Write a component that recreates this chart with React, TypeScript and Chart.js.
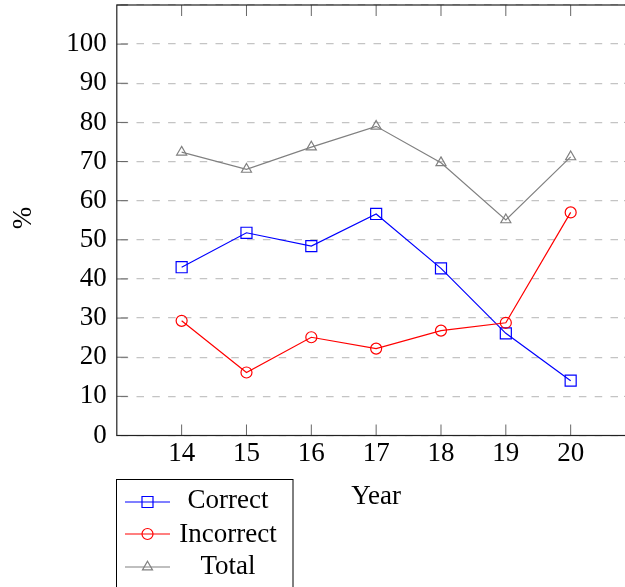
import React, { useEffect, useRef } from 'react';
import { Chart, registerables } from 'chart.js';

Chart.register(...registerables);

const years = [14, 15, 16, 17, 18, 19, 20];
const correct = [43.0, 51.8, 48.4, 56.6, 42.7, 26.1, 14.0];
const incorrect = [29.3, 16.1, 25.1, 22.2, 26.8, 28.8, 57.0];
const total = [72.4, 68.0, 73.7, 79.0, 69.7, 55.1, 71.2];
const yTickValues = [0, 10, 20, 30, 40, 50, 60, 70, 80, 90, 100, 110];
const seriesNames = ['Correct', 'Incorrect', 'Total'];
const seriesColors = ['#0000ff', '#ff0000', '#808080'];
const seriesMarkers = ['rect', 'circle', 'triangle'];
const xTitle = 'Year';
const yTitle = '%';

const FONT = '"Liberation Serif", "DejaVu Serif", serif';
const FS = 27;

function drawMarker(ctx: CanvasRenderingContext2D, kind: string, x: number, y: number, color: string) {
  ctx.save();
  ctx.strokeStyle = color;
  ctx.lineWidth = 1.2;
  ctx.setLineDash([]);
  ctx.beginPath();
  if (kind === 'rect') {
    ctx.rect(x - 5.5, y - 5.5, 11, 11);
  } else if (kind === 'circle') {
    ctx.arc(x, y, 5.5, 0, Math.PI * 2);
  } else {
    const r = 5.8;
    ctx.moveTo(x, y - r);
    ctx.lineTo(x + r * Math.sin(Math.PI * 2 / 3), y + r / 2);
    ctx.lineTo(x - r * Math.sin(Math.PI * 2 / 3), y + r / 2);
    ctx.closePath();
  }
  ctx.stroke();
  ctx.restore();
}

const framePlugin = {
  id: 'frameAndLegend',
  afterDraw(chart: any) {
    const ctx: CanvasRenderingContext2D = chart.ctx;
    const { left, right, top, bottom } = chart.chartArea;
    const xs = chart.scales.x;
    const ys = chart.scales.y;
    ctx.save();
    // ticks
    ctx.strokeStyle = '#666';
    ctx.lineWidth = 1;
    ctx.setLineDash([]);
    ctx.beginPath();
    years.forEach((v) => {
      const px = xs.getPixelForValue(v);
      ctx.moveTo(px, bottom);
      ctx.lineTo(px, bottom - 11);
      ctx.moveTo(px, top);
      ctx.lineTo(px, top + 11);
    });
    yTickValues.forEach((v) => {
      const py = ys.getPixelForValue(v);
      ctx.moveTo(left, py);
      ctx.lineTo(left + 11, py);
      ctx.moveTo(right, py);
      ctx.lineTo(right - 11, py);
    });
    ctx.stroke();
    // frame
    ctx.strokeStyle = '#222';
    ctx.lineWidth = 1.2;
    ctx.strokeRect(left, top, right - left, bottom - top);

    // axis titles
    ctx.fillStyle = '#000';
    ctx.font = FS + 'px ' + FONT;
    ctx.textAlign = 'center';
    ctx.textBaseline = 'alphabetic';
    ctx.fillText(xTitle, (left + right) / 2, 504);
    ctx.save();
    ctx.translate(24, 218);
    ctx.rotate(-Math.PI / 2);
    ctx.textBaseline = 'middle';
    ctx.fillText(yTitle, 0, 0);
    ctx.restore();

    // legend
    ctx.strokeStyle = '#000';
    ctx.lineWidth = 1;
    ctx.strokeRect(116.5, 479.5, 176.5, 200);
    const rowY = [502, 534, 567];
    const textY = [508, 541.5, 574];
    seriesNames.forEach((name, i) => {
      ctx.strokeStyle = seriesColors[i];
      ctx.lineWidth = 1.2;
      ctx.beginPath();
      ctx.moveTo(125, rowY[i]);
      ctx.lineTo(170, rowY[i]);
      ctx.stroke();
      drawMarker(ctx, seriesMarkers[i], 147.5, rowY[i], seriesColors[i]);
      ctx.fillStyle = '#000';
      ctx.font = FS + 'px ' + FONT;
      ctx.textAlign = 'center';
      ctx.textBaseline = 'alphabetic';
      ctx.fillText(name, 228, textY[i]);
    });
    ctx.restore();
  },
};

function makeDataset(i: number, values: number[]) {
  const radius = seriesMarkers[i] === 'rect' ? 7.8 : seriesMarkers[i] === 'circle' ? 5.5 : 5.8;
  return {
    label: seriesNames[i],
    data: years.map((x, k) => ({ x, y: values[k] })),
    borderColor: seriesColors[i],
    borderWidth: 1.2,
    pointStyle: seriesMarkers[i],
    pointRadius: radius,
    pointBorderWidth: 1.2,
    pointBorderColor: seriesColors[i],
    pointBackgroundColor: 'rgba(0,0,0,0)',
    fill: false,
    tension: 0,
    order: 2 - i,
  };
}

export default function App() {
  const ref = useRef<HTMLCanvasElement | null>(null);

  useEffect(() => {
    if (!ref.current) return;
    const chart = new Chart(ref.current, {
      type: 'line',
      data: {
        datasets: [makeDataset(0, correct), makeDataset(1, incorrect), makeDataset(2, total)] as any,
      },
      options: {
        responsive: false,
        devicePixelRatio: 1,
        animation: false,
        events: [],
        layout: { autoPadding: false, padding: { left: 0, top: 5, right: 9.5, bottom: 0 } },
        plugins: {
          legend: { display: false },
          title: { display: false },
          tooltip: { enabled: false },
        },
        scales: {
          x: {
            type: 'linear',
            min: 13,
            max: 21,
            afterBuildTicks: (s: any) => {
              s.ticks = years.map((v) => ({ value: v }));
            },
            afterFit: (s: any) => {
              s.height = 151.5;
              s.paddingLeft = 0;
              s.paddingRight = 0;
            },
            grid: { display: false, drawTicks: false },
            border: { display: false },
            ticks: {
              padding: 2,
              color: '#000',
              font: { family: FONT, size: FS },
              maxRotation: 0,
              autoSkip: false,
              callback: (v: any) => String(v),
            },
          },
          y: {
            type: 'linear',
            min: 0,
            max: 110,
            afterBuildTicks: (s: any) => {
              s.ticks = yTickValues.map((v) => ({ value: v }));
            },
            afterFit: (s: any) => {
              s.width = 116.8;
              s.paddingTop = 0;
              s.paddingBottom = 0;
            },
            grid: { display: true, drawTicks: false, color: '#c4c4c4', lineWidth: 1.3 },
            border: { display: false, dash: [7.5, 8.3], dashOffset: 12.1 },
            ticks: {
              padding: 10,
              color: '#000',
              font: { family: FONT, size: FS },
              autoSkip: false,
              callback: (v: any) => (Number(v) > 100 ? '' : String(v)),
            },
          },
        },
      } as any,
      plugins: [framePlugin],
    });
    return () => chart.destroy();
  }, []);

  return (
    <div
      style={{
        position: 'fixed',
        left: 0,
        top: 0,
        width: 625,
        height: 587,
        overflow: 'hidden',
        background: '#fff',
      }}
    >
      <canvas ref={ref} width={645} height={587} style={{ display: 'block', width: 645, height: 587 }} />
    </div>
  );
}
